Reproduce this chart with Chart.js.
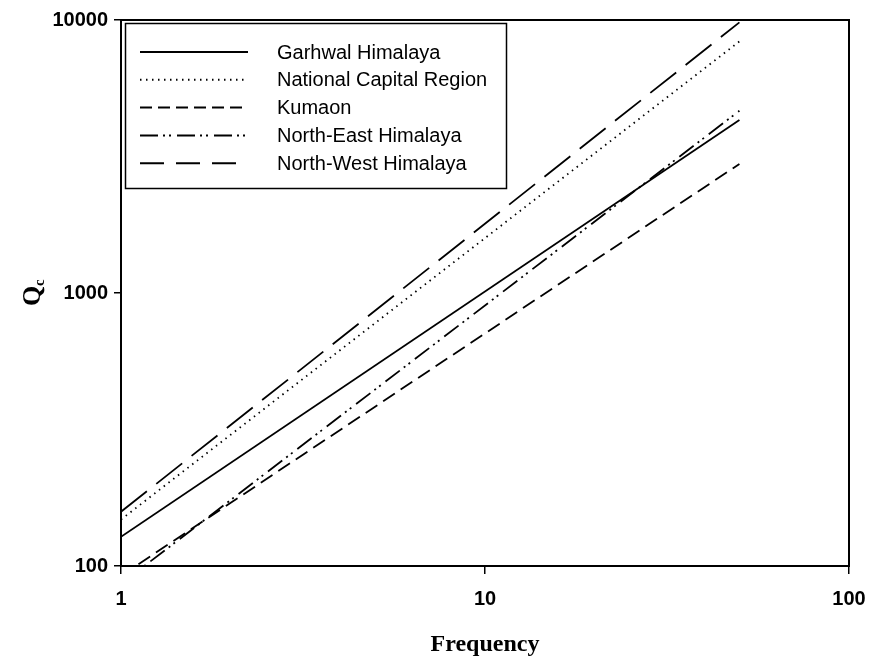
<!DOCTYPE html>
<html>
<head>
<meta charset="utf-8">
<script src="https://cdn.jsdelivr.net/npm/chart.js@4"></script>
<style>
  html, body { margin: 0; padding: 0; background: #fff; }
  canvas { display: block; }
</style>
</head>
<body>
<canvas id="qcChart" width="869" height="662"></canvas>
<script>
// Qc(f) relations, end points at 1 Hz and 50 Hz
const freq = [1, 50];
const garhwal = [128, 4300];
const ncr = [148, 8350];
const kumaon = [92, 2970];
const northEast = [86, 4650];
const northWest = [158, 9800];

const regions = ['Garhwal Himalaya', 'National Capital Region', 'Kumaon', 'North-East Himalaya', 'North-West Himalaya'];
const xTicks = [1, 10, 100];
const yTicks = [100, 1000, 10000];

const seriesValues = [garhwal, ncr, kumaon, northEast, northWest];
const dashes = [[], [1.5, 4.5], [14, 7], [18, 5, 2, 4, 2, 6], [33, 12]];

const datasets = regions.map((name, i) => ({
  label: name,
  data: freq.map((f, j) => ({ x: f, y: seriesValues[i][j] })),
  borderColor: '#000',
  borderWidth: 1.8,
  borderDash: dashes[i],
  pointRadius: 0,
  tension: 0,
  fill: false
}));

// frame, inner legend and the Qc axis title
const extras = {
  id: 'extras',
  afterDraw(chart) {
    const { ctx, chartArea: a } = chart;
    ctx.save();
    ctx.strokeStyle = '#000';
    ctx.fillStyle = '#000';
    ctx.lineWidth = 2;
    ctx.strokeRect(a.left, a.top, a.right - a.left, a.bottom - a.top);

    // legend
    ctx.lineWidth = 1.5;
    ctx.strokeRect(125.5, 23.5, 381, 165);
    ctx.font = '20px "Liberation Sans", Arial, sans-serif';
    ctx.textBaseline = 'middle';
    chart.data.datasets.forEach((ds, i) => {
      const y = 52 + i * 27.8;
      ctx.beginPath();
      ctx.setLineDash(i === 2 ? [12, 6] : i === 4 ? [24, 12] : ds.borderDash);
      ctx.lineWidth = 2;
      ctx.moveTo(140, y);
      ctx.lineTo(248, y);
      ctx.stroke();
      ctx.setLineDash([]);
      ctx.fillText(ds.label, 277, y + 1);
    });

    // y title: Q with subscript c
    ctx.translate(32, 293);
    ctx.rotate(-Math.PI / 2);
    ctx.textBaseline = 'alphabetic';
    ctx.font = 'bold 26px "Liberation Serif", "Times New Roman", serif';
    const qw = ctx.measureText('Q').width;
    ctx.fillText('Q', -qw / 2 - 3, 8);
    ctx.font = 'bold 15px "Liberation Serif", "Times New Roman", serif';
    ctx.fillText('c', qw / 2 - 3, 12);
    ctx.restore();
  }
};

const tickFont = { family: '"Liberation Sans", Arial, sans-serif', size: 20, weight: 'bold' };

new Chart(document.getElementById('qcChart'), {
  type: 'line',
  data: { datasets },
  options: {
    responsive: false,
    animation: false,
    layout: { padding: { top: 20, right: 20, left: 0, bottom: 0 } },
    plugins: { legend: { display: false }, tooltip: { enabled: false } },
    scales: {
      x: {
        type: 'logarithmic',
        min: 1,
        max: 100,
        afterBuildTicks: s => { s.ticks = xTicks.map(v => ({ value: v })); },
        afterFit: s => { s.height = 96; s.paddingLeft = 0; s.paddingRight = 0; },
        grid: { drawOnChartArea: false, drawTicks: true, tickLength: 8, color: '#000', lineWidth: 1.5 },
        border: { display: true, color: '#000', width: 2 },
        ticks: { color: '#000', font: tickFont, padding: 13, maxRotation: 0, callback: v => String(v) },
        title: {
          display: true,
          text: 'Frequency',
          color: '#000',
          font: { family: '"Liberation Serif", "Times New Roman", serif', size: 24, weight: 'bold' },
          padding: { top: 0, bottom: 3 }
        }
      },
      y: {
        type: 'logarithmic',
        min: 100,
        max: 10000,
        afterBuildTicks: s => { s.ticks = yTicks.map(v => ({ value: v })); },
        afterFit: s => { s.width = 121; s.paddingTop = 0; s.paddingBottom = 0; },
        grid: { drawOnChartArea: false, drawTicks: true, tickLength: 7, color: '#000', lineWidth: 1.5 },
        border: { display: true, color: '#000', width: 2 },
        ticks: { color: '#000', font: tickFont, padding: 6, callback: v => String(v) }
      }
    }
  },
  plugins: [extras]
});
</script>
</body>
</html>
